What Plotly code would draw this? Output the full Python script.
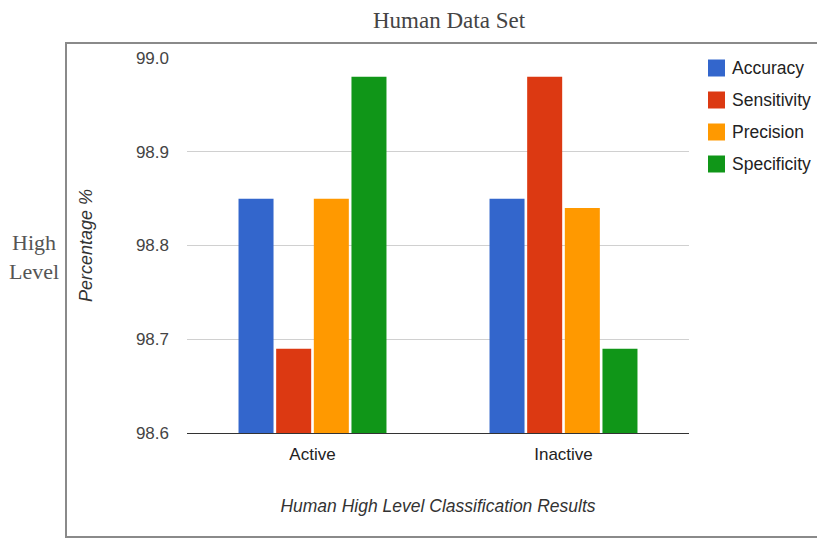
import plotly.graph_objects as go

# Classification results for the human data set (high level)
categories = ["Active", "Inactive"]
metrics = ["Accuracy", "Sensitivity", "Precision", "Specificity"]
accuracy = [98.85, 98.85]
sensitivity = [98.69, 98.98]
precision = [98.85, 98.84]
specificity = [98.98, 98.69]
y_ticks = [98.6, 98.7, 98.8, 98.9, 99.0]

series = [accuracy, sensitivity, precision, specificity]
colors = ["#3366cc", "#dc3912", "#ff9900", "#109618"]

W, H = 817, 538
L, R, T, B = 187, 128, 58, 105
pw, ph = W - L - R, H - T - B


def px_x(x):
    return (x - L) / pw


def px_y(y):
    return (H - B - y) / ph


fig = go.Figure()
for name, vals, col in zip(metrics, series, colors):
    fig.add_trace(go.Bar(
        x=categories, y=vals, name=name,
        marker=dict(color=col, line=dict(width=0)),
        showlegend=False,
    ))

sans = "Liberation Sans, Arial, sans-serif"
serif = "Liberation Serif, Times New Roman, serif"

fig.update_layout(
    width=W, height=H,
    margin=dict(l=L, r=R, t=T, b=B, autoexpand=False),
    paper_bgcolor="white", plot_bgcolor="white",
    barmode="group", bargap=0.4, bargroupgap=0.07,
    font=dict(family=sans, size=17, color="#444"),
    xaxis=dict(
        showline=True, linecolor="#333", linewidth=1,
        ticks="", ticklabelstandoff=6,
        tickfont=dict(family=sans, size=17, color="#222"),
        title=dict(text="<i>Human High Level Classification Results</i>",
                   font=dict(family=sans, size=17.5, color="#333"), standoff=36),
    ),
    yaxis=dict(
        range=[98.6, 99.0], tickvals=y_ticks, tickformat=".1f",
        showgrid=True, gridcolor="#d0d0d0", gridwidth=1,
        zeroline=False, ticks="", ticklabelstandoff=17,
        tickfont=dict(family=sans, size=17, color="#444"),
        title=dict(text="<i>Percentage %</i>",
                   font=dict(family=sans, size=18, color="#333"), standoff=38),
    ),
)

# Legend: coloured square plus label for each metric
row_y = [68, 100, 132, 164]
for name, col, yc in zip(metrics, colors, row_y):
    fig.add_shape(type="rect", xref="paper", yref="paper",
                  x0=px_x(708), x1=px_x(725), y0=px_y(yc + 8.5), y1=px_y(yc - 8.5),
                  line=dict(width=0), fillcolor=col)
    fig.add_annotation(text=name, xref="paper", yref="paper",
                       x=px_x(730), y=px_y(yc), xanchor="left", yanchor="middle",
                       showarrow=False,
                       font=dict(family=sans, size=17.5, color="#222"))

# Outer frame around the chart
fig.add_shape(type="rect", xref="paper", yref="paper",
              x0=px_x(66), x1=px_x(830), y0=px_y(537), y1=px_y(43),
              line=dict(color="#8a8a8a", width=2), fillcolor="rgba(0,0,0,0)",
              layer="below")

fig.add_annotation(text="Human Data Set", xref="paper", yref="paper",
                   x=px_x(449), y=px_y(20), xanchor="center", yanchor="middle",
                   showarrow=False,
                   font=dict(family=serif, size=23, color="#444"))
fig.add_annotation(text="High<br>Level", xref="paper", yref="paper",
                   x=px_x(34), y=px_y(257), xanchor="center", yanchor="middle",
                   showarrow=False, align="center",
                   font=dict(family=serif, size=22, color="#555"))

fig.write_html("out.html")
